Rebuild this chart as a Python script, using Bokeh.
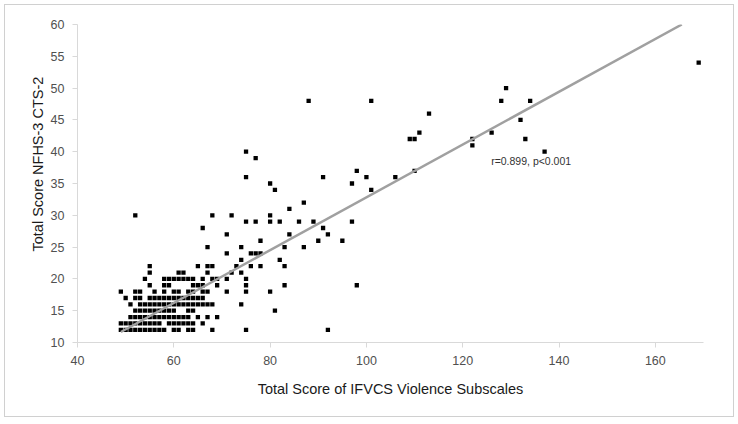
import math
from bokeh.plotting import figure
from bokeh.models import FixedTicker, Label, Title
from bokeh.embed import file_html
from bokeh.resources import INLINE

# ---- data ----
ifvcs_total = [
    49, 50, 51, 52, 53, 54, 55, 56, 57, 58, 60, 61, 63, 64, 68, 75, 92,
    49, 50, 51, 52, 53, 54, 55, 56, 57, 59, 60, 61, 62, 63, 64, 66,
    51, 52, 53, 54, 55, 56, 57, 58, 59, 60, 61, 62, 63, 65, 67, 69,
    52, 53, 54, 55, 56, 57, 58, 59, 60, 63, 64, 81,
    51, 53, 54, 55, 56, 57, 58, 59, 60, 61, 62, 63, 64, 65, 66, 67, 68, 74,
    50, 52, 53, 55, 56, 57, 58, 59, 60, 61, 62, 63, 64, 65, 66,
    49, 52, 53, 56, 58, 60, 61, 63, 64, 66, 67, 71, 75, 80,
    55, 58, 59, 64, 65, 66, 69, 75, 83, 98,
    54, 58, 59, 60, 61, 62, 63, 64, 66, 68, 69, 71, 75,
    55, 61, 62, 67, 72, 74,
    55, 65, 67, 68, 73, 76, 78, 83,
    74, 82,
    71, 76, 77, 78,
    67, 74, 83, 87,
    78, 90, 95,
    71, 84, 92,
    66, 91,
    75, 77, 80, 82, 86, 89, 97,
    52, 68, 72, 80,
    84,
    87,
    81, 101,
    80, 97,
    75, 91, 100, 106,
    98, 110,
    77,
    75, 137,
    122,
    109, 110, 122, 133,
    111, 126,
    132,
    113,
    88, 101, 128, 134,
    129,
    169,
]
nfhs_total = (
    [12] * 17 + [13] * 16 + [14] * 16 + [15] * 12 + [16] * 18 + [17] * 15
    + [18] * 14 + [19] * 10 + [20] * 13 + [21] * 6 + [22] * 8 + [23] * 2
    + [24] * 4 + [25] * 4 + [26] * 3 + [27] * 3 + [28] * 2 + [29] * 7
    + [30] * 4 + [31] * 1 + [32] * 1 + [34] * 2 + [35] * 2 + [36] * 4
    + [37] * 2 + [39] * 1 + [40] * 2 + [41] * 1 + [42] * 4 + [43] * 2
    + [45] * 1 + [46] * 1 + [48] * 4 + [50] * 1 + [54] * 1
)

trend_slope = 0.415
trend_intercept = -8.68
trend_x_start = 49

x_ticks = [40, 60, 80, 100, 120, 140, 160]
y_ticks = [10, 15, 20, 25, 30, 35, 40, 45, 50, 55, 60]
x_limits = (40, 170)
y_limits = (10, 60)

x_title = "Total Score of IFVCS Violence Subscales"
y_title = "Total Score NFHS-3 CTS-2"
stat_text = "r=0.899, p<0.001"

# ---- figure ----
p = figure(width=738, height=421, x_range=x_limits, y_range=y_limits,
           output_backend="svg", toolbar_location=None,
           min_border_left=77, min_border_right=35,
           min_border_top=24, min_border_bottom=79)
p.outline_line_color = None
p.grid.visible = False
p.background_fill_color = "white"
p.border_fill_color = None
p.styles = {"outline": "1px solid #d0d0d0", "outline-offset": "-5px",
            "background-color": "white"}

p.scatter(ifvcs_total, nfhs_total, marker="square", size=4.3,
          fill_color="black", line_color=None)

trend_x_end = (y_limits[1] - trend_intercept) / trend_slope
trend_xs = [trend_x_start, trend_x_end]
trend_ys = [trend_slope * x + trend_intercept for x in trend_xs]
p.line(trend_xs, trend_ys, line_color="#a0a0a0", line_width=2.5)

for ax in (p.xaxis, p.yaxis):
    ax.axis_line_color = "#d9d9d9"
    ax.major_tick_line_color = "#d9d9d9"
    ax.minor_tick_line_color = None
    ax.major_tick_in = 0
    ax.major_tick_out = 5
    ax.major_label_text_font = "Liberation Sans"
    ax.major_label_text_font_size = "12.5px"
    ax.major_label_text_color = "#505050"
    ax.major_label_standoff = 8

p.xaxis.ticker = FixedTicker(ticks=x_ticks)
p.yaxis.ticker = FixedTicker(ticks=y_ticks)

p.xaxis.axis_label = x_title
p.xaxis.axis_label_text_font = "Liberation Sans"
p.xaxis.axis_label_text_font_size = "14.5px"
p.xaxis.axis_label_text_font_style = "normal"
p.xaxis.axis_label_text_color = "#1a1a1a"
p.xaxis.axis_label_standoff = 13

p.add_layout(Title(text=y_title, align="left", offset=91, standoff=4,
                   vertical_align="bottom",
                   text_font="Liberation Sans", text_font_size="14.5px",
                   text_font_style="normal", text_color="#1a1a1a"), "left")

stat_x = 125.9
stat_y = 38.6
p.add_layout(Label(x=stat_x, y=stat_y, text=stat_text,
                   text_align="left", text_baseline="middle",
                   text_font="Liberation Sans", text_font_size="10.5px",
                   text_color="#333333"))

open("out.html", "w").write(file_html(p, INLINE))
